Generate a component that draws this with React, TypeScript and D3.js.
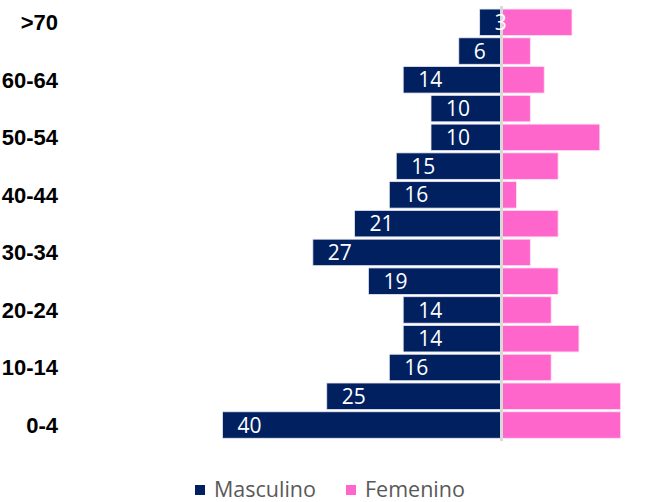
import React from "react";
import * as d3 from "d3";

const ageGroups = ["0-4","5-9","10-14","15-19","20-24","25-29","30-34","35-39","40-44","45-49","50-54","55-59","60-64","65-69",">70"];
const masculino = [40,25,16,14,14,19,27,21,16,15,10,10,14,6,3];
const femenino = [17,17,7,11,7,8,4,8,2,8,14,4,6,4,10];
const tickLabels = ["0-4","10-14","20-24","30-34","40-44","50-54","60-64",">70"];
const seriesNames = ["Masculino","Femenino"];
const colors = ["#002060","#FF66CC"];

export default function App() {
  const W = 650, H = 502;
  const center = 501;
  const unit = 6.95;
  const xMale = d3.scaleLinear().domain([0, 50]).range([center - 0.5, center - 0.5 - 50 * unit]);
  const xFemale = d3.scaleLinear().domain([0, 50]).range([center + 1.5, center + 1.5 + 50 * unit]);
  const y = d3.scaleBand<string>()
    .domain([...ageGroups].reverse())
    .range([7.9, 439.4])
    .paddingInner(0.08)
    .paddingOuter(0.04);
  const bw = y.bandwidth();
  return (
    <svg width={W} height={H} style={{ position: "absolute", left: 0, top: 0, background: "#fff" }}>
      {ageGroups.map((g, i) => {
        const y0 = y(g)!;
        const xl = xMale(masculino[i]);
        return (
          <g key={g}>
            <rect x={xl} y={y0} width={xMale(0) - xl} height={bw} fill={colors[0]} stroke="#e6e6ef" strokeWidth={0.8} />
            <rect x={xFemale(0)} y={y0} width={xFemale(femenino[i]) - xFemale(0)} height={bw} fill={colors[1]} stroke="#ffe0f2" strokeWidth={0.8} />
          </g>
        );
      })}
      <line x1={center + 0.5} x2={center + 0.5} y1={6} y2={441} stroke="#d9d9d9" strokeWidth={3} />
      {ageGroups.map((g, i) => (
        <text key={"l" + g} x={xMale(masculino[i]) + 15} y={y(g)! + bw / 2} dy="0.36em"
          fill="#fff" fontFamily="'Open Sans', 'Liberation Sans', sans-serif" fontSize={21}>{masculino[i]}</text>
      ))}
      {tickLabels.map((t) => (
        <text key={"t" + t} x={58} y={y(t)! + bw / 2} dy="0.36em" textAnchor="end"
          fill="#000" fontWeight="bold" fontFamily="'Liberation Sans', Arial, sans-serif" fontSize={22}>{t}</text>
      ))}
      <g>
        <rect x={195} y={485} width={10} height={10} fill={colors[0]} />
        <text x={214} y={496.5} fill="#595959" fontFamily="'Open Sans', sans-serif" fontSize={21.5}>{seriesNames[0]}</text>
        <rect x={346} y={485} width={10} height={10} fill={colors[1]} />
        <text x={365} y={496.5} fill="#595959" fontFamily="'Open Sans', sans-serif" fontSize={21.5}>{seriesNames[1]}</text>
      </g>
    </svg>
  );
}
